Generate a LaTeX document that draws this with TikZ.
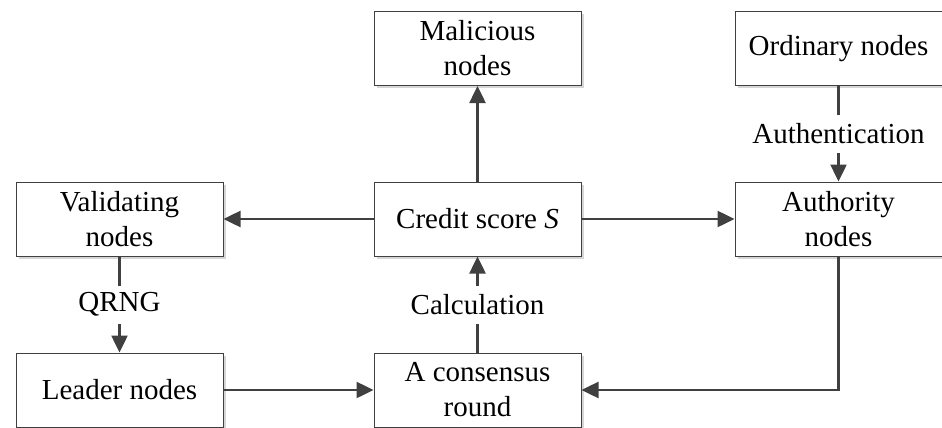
\documentclass[tikz,border=0pt]{standalone}
\usepackage{fontspec}
\setmainfont{Liberation Serif}
\usetikzlibrary{arrows.meta,shadows,calc}
\definecolor{ln}{HTML}{404040}
\begin{document}
\begin{tikzpicture}[x=1pt,y=-1pt,
 box/.style={draw=ln, line width=1pt, fill=white, minimum width=207pt, minimum height=74pt,
   inner sep=0pt, align=center, font=\fontsize{29}{35}\selectfont,
   drop shadow={shadow xshift=2.5pt, shadow yshift=-2.5pt, fill=black!16, opacity=1}},
 lnk/.style={draw=ln, line width=2.5pt},
 arr/.style={lnk, -{Triangle[length=17pt,width=16pt]}},
 lbl/.style={fill=white, inner xsep=2pt, inner ysep=0pt, minimum height=38pt,
   font=\fontsize{29}{35}\selectfont}]
\useasboundingbox (0,0) rectangle (942,428);
\node[box] (mal) at (477.5,48.5) {Malicious\\nodes};
\node[box] (ord) at (838.5,48.5) {Ordinary nodes};
\node[box] (val) at (119.5,219) {Validating\\nodes};
\node[box] (cs) at (477.5,219) {Credit score \textit{S}};
\node[box] (auth) at (838.5,219) {Authority\\nodes};
\node[box] (lead) at (119.5,390) {Leader nodes};
\node[box] (cons) at (477.5,390) {A consensus\\round};
\draw[arr] (cs) -- (mal);
\draw[arr] (cs) -- (val);
\draw[arr] (cs) -- (auth);
\draw[arr] (ord) -- (auth);
\draw[arr] (val) -- (lead);
\draw[arr] (cons) -- (cs);
\draw[arr] (lead) -- (cons);
\draw[arr] (auth.south) |- (cons.east);
\node[lbl] (la) at ($(ord.south)!0.5!(auth.north)$) {Authentication};
\node[lbl] (lq) at ($(val.south)!0.5!(lead.north)$) {QRNG};
\node[lbl] (lc) at ($(cons.north)!0.5!(cs.south)$) {Calculation};
\end{tikzpicture}
\end{document}
